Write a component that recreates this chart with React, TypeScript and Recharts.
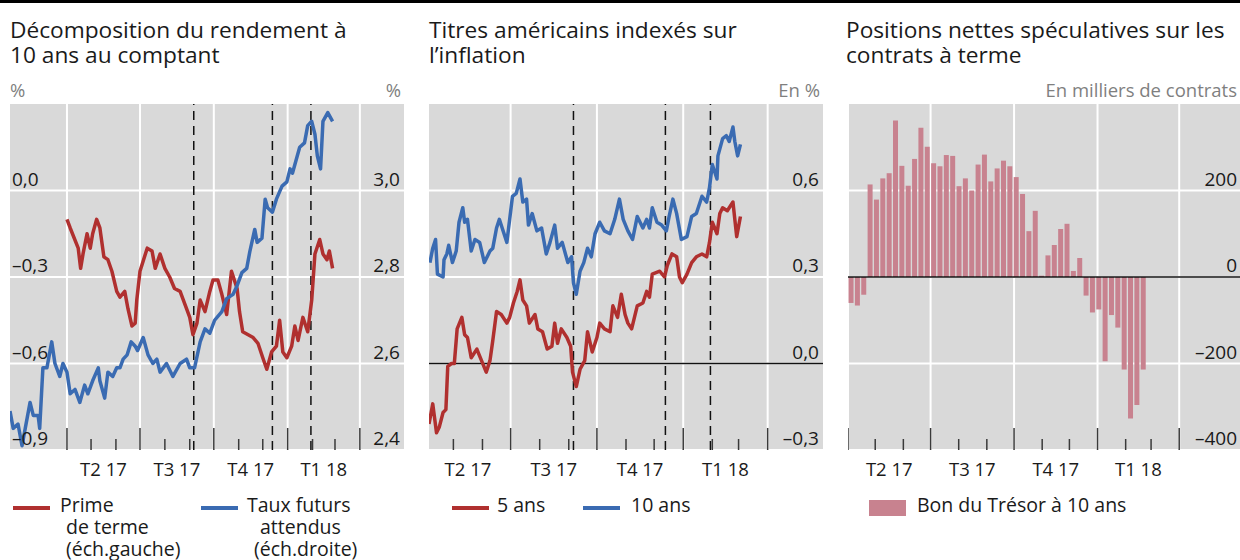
import {
  Bar,
  CartesianGrid,
  ComposedChart,
  Line,
  ReferenceLine,
  XAxis,
  YAxis,
} from "recharts";

const FONT = '"Open Sans", "Noto Sans", sans-serif';

const COLORS = {
  red: "#b0302f",
  blue: "#3a6bb2",
  bar: "#c8828f",
  bg: "#d9d9d9",
  grid: "#ffffff",
  text: "#1a1a1a",
  unit: "#7f7f7f",
  tick: "#3a3a3a",
  rule: "#111111",
};

// jours depuis le 1er janvier 2017
const MONTHS = [90, 120, 151, 181, 212, 243, 273, 304, 334, 365, 396, 424, 455];
const QUARTERS = [90, 181, 273, 365, 455];
const Q_MIDS = [135.5, 227, 319, 410];
const Q_LABELS = ["T2 17", "T3 17", "T4 17", "T1 18"];
const EVENTS = [248, 346, 394];

// Décomposition du rendement à 10 ans
const primeDays = [90, 94, 104, 107, 110, 115, 119, 122, 127, 131, 136, 141, 146, 152, 156, 162, 166, 171, 175, 177, 181, 190, 196, 200, 206, 212, 218, 224, 231, 239, 243, 247, 252, 256, 262, 268, 272, 278, 283, 289, 295, 302, 305, 309, 322, 328, 334, 339, 345, 351, 355, 359, 364, 370, 374, 378, 384, 390, 395, 399, 405, 409, 414, 417, 421];
const primeVals = [-0.10, -0.13, -0.20, -0.27, -0.22, -0.15, -0.20, -0.15, -0.10, -0.13, -0.23, -0.24, -0.28, -0.35, -0.37, -0.35, -0.41, -0.47, -0.46, -0.38, -0.28, -0.20, -0.21, -0.27, -0.22, -0.27, -0.30, -0.34, -0.35, -0.41, -0.44, -0.50, -0.46, -0.38, -0.42, -0.35, -0.31, -0.31, -0.36, -0.43, -0.28, -0.34, -0.42, -0.49, -0.51, -0.53, -0.58, -0.62, -0.56, -0.54, -0.45, -0.56, -0.58, -0.54, -0.47, -0.52, -0.44, -0.49, -0.38, -0.22, -0.17, -0.22, -0.24, -0.21, -0.27];

const futDays = [19, 23, 29, 34, 38, 44, 48, 54, 56, 60, 65, 71, 75, 81, 85, 90, 94, 100, 106, 112, 116, 122, 129, 131, 137, 141, 147, 152, 156, 160, 165, 170, 175, 178, 185, 191, 197, 202, 206, 214, 222, 231, 239, 243, 249, 256, 262, 268, 274, 283, 289, 297, 302, 308, 314, 318, 324, 327, 333, 337, 340, 346, 351, 358, 364, 368, 371, 380, 386, 390, 395, 399, 402, 406, 409, 415, 421];
const futVals = [2.49, 2.45, 2.46, 2.41, 2.45, 2.51, 2.48, 2.48, 2.45, 2.59, 2.59, 2.65, 2.60, 2.57, 2.60, 2.58, 2.53, 2.54, 2.51, 2.55, 2.53, 2.56, 2.59, 2.56, 2.52, 2.58, 2.57, 2.59, 2.59, 2.61, 2.62, 2.65, 2.64, 2.63, 2.66, 2.62, 2.60, 2.61, 2.58, 2.60, 2.57, 2.60, 2.61, 2.59, 2.59, 2.65, 2.68, 2.67, 2.70, 2.72, 2.75, 2.76, 2.78, 2.81, 2.82, 2.86, 2.91, 2.88, 2.89, 2.98, 2.96, 2.95, 2.98, 3.01, 3.02, 3.05, 3.04, 3.10, 3.11, 3.15, 3.16, 3.13, 3.08, 3.05, 3.16, 3.18, 3.16];

// Titres indexés sur l'inflation
const t5Days = [94, 98, 102, 105, 109, 112, 114, 118, 121, 124, 129, 132, 135, 139, 145, 150, 155, 159, 162, 166, 171, 177, 180, 184, 188, 191, 194, 198, 201, 207, 210, 215, 220, 225, 228, 231, 235, 241, 245, 247, 251, 255, 260, 263, 268, 273, 276, 281, 287, 290, 295, 299, 303, 306, 310, 313, 316, 322, 326, 329, 332, 340, 345, 348, 353, 358, 361, 364, 369, 374, 379, 385, 390, 393, 396, 401, 404, 407, 412, 418, 420, 422, 426];
const t5Vals = [-0.21, -0.14, -0.24, -0.22, -0.17, -0.16, -0.01, 0.00, 0.00, 0.12, 0.16, 0.10, 0.09, 0.02, 0.05, 0.01, -0.03, 0.01, 0.08, 0.18, 0.17, 0.14, 0.16, 0.21, 0.25, 0.29, 0.22, 0.20, 0.14, 0.17, 0.12, 0.11, 0.05, 0.06, 0.14, 0.07, 0.12, 0.09, 0.06, -0.03, -0.08, -0.02, 0.01, 0.11, 0.04, 0.09, 0.14, 0.12, 0.11, 0.20, 0.16, 0.24, 0.17, 0.14, 0.12, 0.16, 0.20, 0.21, 0.25, 0.23, 0.31, 0.32, 0.30, 0.34, 0.38, 0.37, 0.30, 0.28, 0.31, 0.35, 0.37, 0.38, 0.37, 0.42, 0.49, 0.45, 0.52, 0.54, 0.53, 0.56, 0.50, 0.44, 0.51];

const t10Days = [95, 98, 101, 103, 109, 110, 113, 115, 119, 123, 126, 130, 132, 135, 139, 143, 148, 153, 159, 162, 166, 169, 172, 177, 180, 183, 187, 191, 194, 198, 200, 204, 209, 214, 219, 223, 228, 231, 236, 242, 246, 248, 251, 255, 259, 263, 267, 271, 276, 281, 287, 292, 297, 301, 306, 311, 316, 322, 326, 329, 332, 337, 342, 347, 350, 354, 358, 363, 369, 374, 379, 385, 390, 393, 396, 401, 402, 407, 411, 414, 418, 420, 423, 426];
const t10Vals = [0.35, 0.40, 0.43, 0.31, 0.30, 0.36, 0.38, 0.41, 0.35, 0.39, 0.49, 0.54, 0.49, 0.50, 0.39, 0.43, 0.42, 0.35, 0.39, 0.40, 0.47, 0.50, 0.47, 0.42, 0.50, 0.58, 0.59, 0.64, 0.56, 0.57, 0.48, 0.52, 0.46, 0.47, 0.38, 0.42, 0.48, 0.40, 0.42, 0.35, 0.37, 0.28, 0.24, 0.32, 0.35, 0.40, 0.37, 0.45, 0.49, 0.46, 0.45, 0.50, 0.57, 0.50, 0.46, 0.43, 0.51, 0.47, 0.50, 0.47, 0.54, 0.49, 0.48, 0.46, 0.51, 0.57, 0.52, 0.43, 0.44, 0.51, 0.52, 0.58, 0.56, 0.61, 0.69, 0.64, 0.72, 0.78, 0.79, 0.77, 0.82, 0.77, 0.72, 0.76];

// Positions nettes spéculatives (milliers de contrats), hebdomadaire
const barDays = [93, 100, 107, 114, 121, 128, 135, 142, 149, 156, 163, 170, 177, 184, 191, 198, 205, 212, 219, 226, 233, 240, 247, 254, 261, 268, 275, 282, 289, 296, 303, 310, 317, 324, 331, 338, 345, 352, 359, 366, 373, 380, 387, 394, 401, 408, 415];
const barVals = [-60, -66, -41, 214, 179, 228, 240, 362, 257, 211, 273, 345, 301, 263, 256, 282, 280, 210, 228, 200, 260, 283, 221, 251, 269, 256, 231, 192, 106, 153, 3, 50, 74, 111, 123, 14, 44, -43, -82, -75, -195, -88, -117, -214, -327, -296, -214];

const zip = (days: number[], vals: number[]) => days.map((d, i) => ({ d, v: vals[i] }));

const fmt1 = (v: number) => v.toFixed(1).replace(".", ",").replace("-", "–");
const fmt0 = (v: number) => String(v).replace("-", "–");

const XTick = (props: any) => {
  const { x, y, payload } = props;
  const v = payload.value;
  const qi = Q_MIDS.indexOf(v);
  if (qi >= 0) {
    return (
      <text x={x} y={y + 26} textAnchor="middle" fontSize={18.5} fontFamily={FONT} fill={COLORS.text}>
        {Q_LABELS[qi]}
      </text>
    );
  }
  const major = QUARTERS.includes(v);
  return <line x1={x} x2={x} y1={y} y2={y - (major ? 22 : 11)} stroke={COLORS.tick} strokeWidth={1.5} />;
};

const yTick = (dx: number, anchor: "start" | "end", fmt: (v: number) => string) => (props: any) => {
  const { x, y, payload } = props;
  return (
    <text x={x + dx} y={y - 5} textAnchor={anchor} fontSize={19} fontFamily={FONT} fill={COLORS.text}>
      {fmt(payload.value)}
    </text>
  );
};

const inDomain = (list: number[], lo: number, hi: number) => list.filter((t) => t >= lo && t <= hi);

const axisCommon = { tickLine: false, axisLine: false, tickSize: 0, tickMargin: 0, interval: 0 as const };

function xAxisFor(lo: number, hi: number) {
  return (
    <XAxis
      dataKey="d"
      type="number"
      domain={[lo, hi]}
      allowDataOverflow
      ticks={[...inDomain(MONTHS, lo, hi), ...inDomain(Q_MIDS, lo, hi)]}
      tick={XTick}
      height={30}
      {...axisCommon}
    />
  );
}

const CHART_H = 390;
const MARGIN = { top: 0, right: 0, bottom: 14, left: 0 };

function Title({ left, lines }: { left: number; lines: string[] }) {
  return (
    <div style={{ position: "absolute", left, top: 17, fontSize: 22.7, lineHeight: "25px", color: COLORS.text, whiteSpace: "nowrap" }}>
      {lines.map((l, i) => (
        <div key={i}>{l}</div>
      ))}
    </div>
  );
}

function Unit({ left, right, text }: { left?: number; right?: number; text: string }) {
  return (
    <div style={{ position: "absolute", left, right, top: 81, fontSize: 18.5, lineHeight: "18px", color: COLORS.unit, whiteSpace: "nowrap" }}>
      {text}
    </div>
  );
}

// une entrée de légende : un seul bloc, lignes décalées comme dans l'original
function LegendText({ left, lines, indents = [] }: { left: number; lines: string[]; indents?: number[] }) {
  return (
    <div style={{ position: "absolute", left, top: 494, fontSize: 19.5, lineHeight: "22px", color: COLORS.text, whiteSpace: "nowrap" }}>
      {lines.map((l, i) => (
        <span key={i} style={{ display: "block", paddingLeft: indents[i] ?? 0 }}>
          {l}
        </span>
      ))}
    </div>
  );
}

function Swatch({ left, color, w = 37, h = 4, top = 506 }: { left: number; color: string; w?: number; h?: number; top?: number }) {
  return <div style={{ position: "absolute", left, top, width: w, height: h, background: color }} />;
}

export default function App() {
  const p1 = { lo: 19, hi: 510 };
  const p2 = { lo: 94, hi: 514 };
  const p3 = { lo: 90, hi: 522 };

  return (
    <div style={{ position: "absolute", left: 0, top: 0, width: 1240, height: 560, background: "#fff", overflow: "hidden", fontFamily: FONT }}>
      <div style={{ position: "absolute", left: 0, top: 0, width: 1240, height: 3, background: "#000" }} />

      <Title left={10} lines={["Décomposition du rendement à", "10 ans au comptant"]} />
      <Title left={429} lines={["Titres américains indexés sur", "l’inflation"]} />
      <Title left={846} lines={["Positions nettes spéculatives sur les", "contrats à terme"]} />

      <Unit left={10} text="%" />
      <Unit right={1240 - 401} text="%" />
      <Unit right={1240 - 820} text="En %" />
      <Unit right={3} text="En milliers de contrats" />

      {/* Panel 1 */}
      <div style={{ position: "absolute", left: 9, top: 104 }}>
        <ComposedChart width={396} height={CHART_H} margin={MARGIN}>
          <CartesianGrid
            fill={COLORS.bg}
            fillOpacity={1}
            stroke={COLORS.grid}
            strokeWidth={2}
            verticalValues={inDomain(QUARTERS, p1.lo, p1.hi)}
            horizontalValues={[-0.9, -0.6, -0.3, 0]}
          />
          {xAxisFor(p1.lo, p1.hi)}
          <YAxis type="number" domain={[-0.9, 0.3]} ticks={[-0.9, -0.6, -0.3, 0]} width={1} tick={yTick(2, "start", fmt1)} {...axisCommon} />
          <YAxis yAxisId="R" orientation="right" type="number" domain={[2.4, 3.2]} ticks={[2.4, 2.6, 2.8, 3.0]} width={1} tick={yTick(-4, "end", fmt1)} {...axisCommon} />
          {EVENTS.map((d) => (
            <ReferenceLine key={d} x={d} stroke={COLORS.rule} strokeWidth={1.5} strokeDasharray="9 6" />
          ))}
          <Line data={zip(primeDays, primeVals)} dataKey="v" type="linear" dot={false} stroke={COLORS.red} strokeWidth={3.5} strokeLinejoin="round" isAnimationActive={false} />
          <Line data={zip(futDays, futVals)} yAxisId="R" dataKey="v" type="linear" dot={false} stroke={COLORS.blue} strokeWidth={3.5} strokeLinejoin="round" isAnimationActive={false} />
        </ComposedChart>
      </div>

      {/* Panel 2 */}
      <div style={{ position: "absolute", left: 429, top: 104 }}>
        <ComposedChart width={395} height={CHART_H} margin={MARGIN}>
          <CartesianGrid
            fill={COLORS.bg}
            fillOpacity={1}
            stroke={COLORS.grid}
            strokeWidth={2}
            verticalValues={inDomain(QUARTERS, p2.lo, p2.hi)}
            horizontalValues={[-0.3, 0, 0.3, 0.6]}
          />
          {xAxisFor(p2.lo, p2.hi)}
          <YAxis orientation="right" type="number" domain={[-0.3, 0.9]} ticks={[-0.3, 0, 0.3, 0.6]} width={1} tick={yTick(-4, "end", fmt1)} {...axisCommon} />
          <ReferenceLine y={0} stroke={COLORS.rule} strokeWidth={1.5} />
          {EVENTS.map((d) => (
            <ReferenceLine key={d} x={d} stroke={COLORS.rule} strokeWidth={1.5} strokeDasharray="9 6" />
          ))}
          <Line data={zip(t5Days, t5Vals)} dataKey="v" type="linear" dot={false} stroke={COLORS.red} strokeWidth={3.5} strokeLinejoin="round" isAnimationActive={false} />
          <Line data={zip(t10Days, t10Vals)} dataKey="v" type="linear" dot={false} stroke={COLORS.blue} strokeWidth={3.5} strokeLinejoin="round" isAnimationActive={false} />
        </ComposedChart>
      </div>

      {/* Panel 3 */}
      <div style={{ position: "absolute", left: 848, top: 104 }}>
        <ComposedChart width={393} height={CHART_H} margin={MARGIN} data={zip(barDays, barVals)}>
          <CartesianGrid
            fill={COLORS.bg}
            fillOpacity={1}
            stroke={COLORS.grid}
            strokeWidth={2}
            verticalValues={inDomain(QUARTERS, p3.lo, p3.hi)}
            horizontalValues={[-400, -200, 0, 200]}
          />
          {xAxisFor(p3.lo, p3.hi)}
          <YAxis orientation="right" type="number" domain={[-400, 400]} ticks={[-400, -200, 0, 200]} width={1} tick={yTick(-3, "end", fmt0)} {...axisCommon} />
          <Bar dataKey="v" fill={COLORS.bar} barSize={5} isAnimationActive={false} />
          <ReferenceLine y={0} stroke={COLORS.rule} strokeWidth={1.5} />
        </ComposedChart>
      </div>

      {/* Legends */}
      <Swatch left={13} color={COLORS.red} />
      <LegendText left={60} lines={["Prime", "de terme", "(éch.gauche)"]} indents={[0, 6, 6]} />
      <Swatch left={201} color={COLORS.blue} />
      <LegendText left={247} lines={["Taux futurs", "attendus", "(éch.droite)"]} indents={[0, 13, 7]} />

      <Swatch left={452} color={COLORS.red} />
      <LegendText left={497} lines={["5 ans"]} />
      <Swatch left={583} color={COLORS.blue} />
      <LegendText left={631} lines={["10 ans"]} />

      <Swatch left={869} color={COLORS.bar} w={37} h={16} top={500} />
      <LegendText left={917} lines={["Bon du Trésor à 10 ans"]} />
    </div>
  );
}
